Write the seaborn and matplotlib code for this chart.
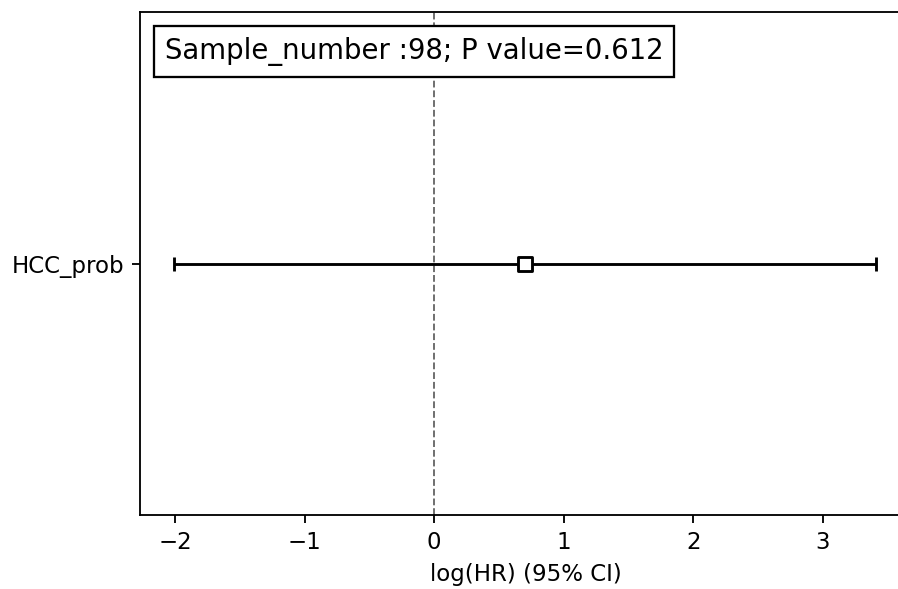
import matplotlib
matplotlib.use("Agg")
import matplotlib.pyplot as plt
from matplotlib.offsetbox import AnchoredText
import seaborn as sns
import pandas as pd

covariates = ["HCC_prob"]
coef = [0.70]
lower_ci = [-2.01]
upper_ci = [3.41]
sample_number = 98
p_value = 0.612

df = pd.DataFrame({"covariate": covariates, "coef": coef,
                   "lower": lower_ci, "upper": upper_ci})
df["y"] = range(len(df))

DPI = 165
fig = plt.figure(figsize=(898 / DPI, 589 / DPI), dpi=DPI)
ax = fig.add_axes([140 / 898, (589 - 515) / 589, (911 - 140) / 898, (515 - 12) / 589])

err_lo = df["coef"] - df["lower"]
err_hi = df["upper"] - df["coef"]
ax.errorbar(df["coef"], df["y"], xerr=[err_lo, err_hi], fmt="none",
            ecolor="k", elinewidth=1.25, capsize=3, capthick=1.25, zorder=2)
sns.scatterplot(data=df, x="coef", y="y", marker="s", s=36, color="white",
                edgecolor="k", linewidth=1.25, zorder=3, ax=ax)

ax.axvline(0, color="k", linestyle="--", linewidth=0.8, alpha=0.6, zorder=1)

ax.set_xlim(-2.270, 3.68)
ax.set_xticks([-2, -1, 0, 1, 2, 3])
ax.set_yticks(df["y"])
ax.set_yticklabels(df["covariate"])
ax.set_ylim(-1, len(df))
ax.set_ylabel("")
ax.set_xlabel("log(HR) (95% CI)")

at = AnchoredText(f"Sample_number :{sample_number}; P value={p_value}",
                  loc="upper left", prop=dict(size=12))
ax.add_artist(at)

fig.savefig("out.png", dpi=DPI)
